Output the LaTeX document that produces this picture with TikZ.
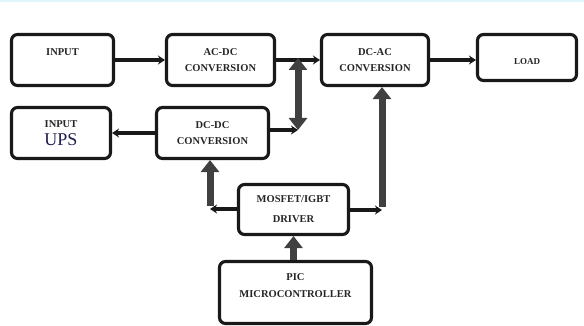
\documentclass[tikz,border=0pt]{standalone}
\usepackage{fontspec}
\setmainfont{Liberation Serif}
\usetikzlibrary{arrows.meta}

\begin{document}
\begin{tikzpicture}[x=1pt, y=-1pt,
    blk/.style={draw=black!90, line width=3.1pt, rounded corners=6pt, fill=white,
        inner sep=0pt, align=center, text=black!85,
        font=\bfseries\fontsize{10.5}{16}\selectfont},
    txt/.style={inner sep=0pt, align=center, text=black!85,
        font=\bfseries\fontsize{10.5}{17}\selectfont},
    harr/.style={line width=3.6pt, black!90, -{Stealth[length=7pt,width=9pt]}},
    varr/.style={line width=7pt, black!75, -{Triangle[length=12pt,width=18pt]}}]
    \useasboundingbox (0,0) rectangle (584,326);
    \fill[cyan!12] (0,0) rectangle (584,2);
    \node (inp) [blk, minimum width=102, minimum height=51] at (62.5,60) {};
    \node (inpT) [txt] at (62.5,52) {INPUT};
    \node (acdc) [blk, minimum width=108, minimum height=51] at (220.5,60) {AC-DC\\CONVERSION};
    \node (dcac) [blk, minimum width=107, minimum height=51] at (375,60) {DC-AC\\CONVERSION};
    \node (load) [blk, minimum width=99, minimum height=46] at (527,57.5) {};
    \node (loadT) [txt, font=\bfseries\fontsize{9}{11}\selectfont] at (527,62) {LOAD};
    \node (ups) [blk, minimum width=99, minimum height=51] at (61,133)
        {INPUT\\[1.5pt]{\mdseries\fontsize{18}{18}\selectfont\color[rgb]{0.12,0.12,0.3}UPS}};
    \node (dcdc) [blk, minimum width=112, minimum height=51] at (212.5,133) {DC-DC\\CONVERSION};
    \node (mos) [blk, minimum width=110, minimum height=50] at (293.5,209.5) {MOSFET/IGBT\\[4pt]DRIVER};
    \node (pic) [blk, minimum width=152, minimum height=62] at (295.5,292.5) {};
    \node (picT) [txt] at (295.5,286) {PIC\\MICROCONTROLLER};
    \coordinate (j1) at (298,58);
    \coordinate (j2) at (298,130);
    \coordinate (m1) at (210,209);
    \coordinate (m2) at (382,210);
    \draw[harr] (inp.east) -- (acdc.west);
    \draw[harr] (acdc.east) -- (dcac.west);
    \draw[harr] (dcac.east) -- (dcac.east -| load.west);
    \draw[varr, {Triangle[length=12pt,width=18pt]}-{Triangle[length=12pt,width=18pt]}] (j1) -- (j2);
    \draw[harr] (j2 -| dcdc.east) -- (j2);
    \draw[harr] (dcdc.west) -- (ups.east);
    \draw[harr] (m1 -| mos.west) -- (m1);
    \draw[varr] ([yshift=3]m1) -- (m1 |- dcdc.south);
    \draw[harr] (m2 -| mos.east) -- (m2);
    \draw[varr] ([yshift=3]m2) -- (m2 |- dcac.south);
    \draw[varr] (pic.north -| mos.south) -- (mos.south);
\end{tikzpicture}
\end{document}
